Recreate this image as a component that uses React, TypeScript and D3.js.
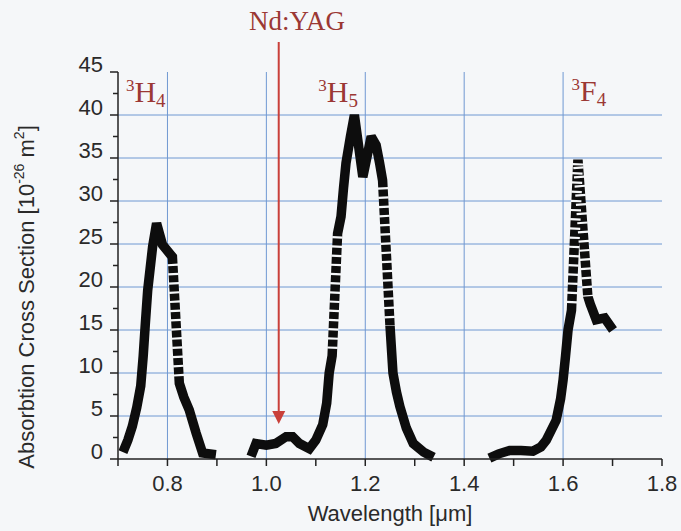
import React from 'react';
import * as d3 from 'd3';

const W = 681;
const H = 531;

// Axis ticks
const xMinorTicks = [0.7, 0.8, 0.9, 1.0, 1.1, 1.2, 1.3, 1.4, 1.5, 1.6, 1.7, 1.8];
const xTickLabels = [0.8, 1.0, 1.2, 1.4, 1.6, 1.8];
const xGridValues = [0.8, 1.0, 1.2, 1.4, 1.6];
const yTickLabels = [0, 5, 10, 15, 20, 25, 30, 35, 40, 45];
const yMinorTicks = [2.5, 7.5, 12.5, 17.5, 22.5, 27.5, 32.5, 37.5, 42.5];
const yGridValues = [5, 10, 15, 20, 25, 30, 35, 40];

// Band 3H4
const h4Wavelength = [0.71, 0.72, 0.729, 0.738, 0.746, 0.751, 0.755, 0.76, 0.77, 0.778, 0.79, 0.81, 0.824, 0.833, 0.844, 0.858, 0.871, 0.898];
const h4Sigma = [0.8, 2.2, 3.8, 6, 8.5, 12, 15.5, 19.6, 24.7, 27.4, 24.9, 23.5, 8.8, 7.2, 5.7, 3, 0.7, 0.5];

// Band 3H5 (with the weak feature near 1.0 um)
const h5Wavelength = [0.969, 0.979, 1.0, 1.019, 1.04, 1.053, 1.067, 1.087, 1.1, 1.114, 1.122, 1.127, 1.133, 1.144, 1.151, 1.156, 1.161, 1.17, 1.178, 1.195, 1.212, 1.222, 1.229, 1.235, 1.25, 1.256, 1.263, 1.27, 1.283, 1.297, 1.318, 1.338];
const h5Sigma = [0.3, 1.8, 1.6, 1.8, 2.6, 2.6, 1.8, 1.2, 2.2, 4, 6.5, 10, 12, 26.2, 28.2, 31.5, 34.4, 37.5, 40, 32.8, 37.5, 36.5, 34.4, 32.4, 15.5, 10, 7.8, 6.1, 3.6, 1.8, 0.8, 0.2];

// Band 3F4
const f4Wavelength = [1.451, 1.47, 1.492, 1.515, 1.539, 1.555, 1.566, 1.586, 1.595, 1.6, 1.605, 1.61, 1.617, 1.63, 1.65, 1.655, 1.667, 1.684, 1.701];
const f4Sigma = [0.1, 0.6, 1.0, 1.0, 0.9, 1.4, 2.2, 4.5, 7, 9.2, 12, 15, 17.3, 34.8, 18.9, 18, 16.2, 16.4, 15];

const bands = [
  { wl: h4Wavelength, s: h4Sigma },
  { wl: h5Wavelength, s: h5Sigma },
  { wl: f4Wavelength, s: f4Sigma },
];

// Annotations
const bandLabels = [
  { main: 'H', sup: '3', sub: '4', wl: 0.716, s: 41.5 },
  { main: 'H', sup: '3', sub: '5', wl: 1.105, s: 41.5 },
  { main: 'F', sup: '3', sub: '4', wl: 1.617, s: 41.6 },
];
const laserArrowWavelength = 1.025; // where the arrow is drawn in the figure
const laserLabel = 'Nd:YAG';

const BG = '#f5f7f9';
const GRID = '#6f98d2';
const AXIS = '#222';
const RED = '#c9403a';
const DARKRED = '#9b3834';
const SANS = '"Liberation Sans", Arial, Helvetica, sans-serif';
const SERIF = '"Liberation Serif", "Times New Roman", serif';

export default function App() {
  const x = d3.scaleLinear().domain([0.7, 1.8]).range([118, 662]);
  const y = d3.scaleLinear().domain([0, 45]).range([459, 72]);
  const x0 = x(0.7);
  const x1 = x(1.8);
  const y0 = y(0);
  const yTop = y(45);

  const line = d3
    .line<[number, number]>()
    .x((d) => x(d[0]))
    .y((d) => y(d[1]));

  const paths = bands.map((b) => line(b.wl.map((w, i) => [w, b.s[i]] as [number, number])) || '');

  // long segments drawn with the broken (stippled) look of the original
  const longSegs: { x1: number; y1: number; x2: number; y2: number }[] = [];
  bands.forEach((b) => {
    for (let i = 0; i < b.wl.length - 1; i++) {
      const ax = x(b.wl[i]);
      const ay = y(b.s[i]);
      const bx = x(b.wl[i + 1]);
      const by = y(b.s[i + 1]);
      if (Math.hypot(bx - ax, by - ay) > 75) longSegs.push({ x1: ax, y1: ay, x2: bx, y2: by });
    }
  });

  const arrowX = x(laserArrowWavelength);
  const arrowTip = 424;

  return (
    <svg
      width={W}
      height={H}
      viewBox={`0 0 ${W} ${H}`}
      style={{ position: 'absolute', left: 0, top: 0 }}
    >
      <rect x={0} y={0} width={W} height={H} fill={BG} />

      {/* grid */}
      {yGridValues.map((v) => (
        <line key={'hg' + v} x1={x0} x2={x1} y1={y(v)} y2={y(v)} stroke={GRID} strokeWidth={1} />
      ))}
      {xGridValues.map((v) => (
        <line key={'vg' + v} x1={x(v)} x2={x(v)} y1={yTop} y2={y0} stroke={GRID} strokeWidth={1} />
      ))}

      {/* data */}
      {paths.map((d, i) => (
        <path
          key={'p' + i}
          d={d}
          fill="none"
          stroke="#0d0d0d"
          strokeWidth={9.5}
          strokeLinejoin="miter"
          strokeMiterlimit={2}
          strokeLinecap="butt"
        />
      ))}
      {longSegs.map((s, i) => (
        <line
          key={'ls' + i}
          x1={s.x1}
          y1={s.y1}
          x2={s.x2}
          y2={s.y2}
          stroke={BG}
          strokeWidth={10.5}
          strokeDasharray="0 7 2.2 0"
        />
      ))}

      {/* axes */}
      <line x1={x0} x2={x0} y1={yTop} y2={y0} stroke={AXIS} strokeWidth={1.5} />
      <line x1={x0} x2={x1} y1={y0} y2={y0} stroke={AXIS} strokeWidth={1.5} />
      {yTickLabels.map((v) => (
        <line key={'yt' + v} x1={x0 - 8} x2={x0} y1={y(v)} y2={y(v)} stroke={AXIS} strokeWidth={1.5} />
      ))}
      {yMinorTicks.map((v) => (
        <line key={'ym' + v} x1={x0 - 5} x2={x0} y1={y(v)} y2={y(v)} stroke={AXIS} strokeWidth={1.5} />
      ))}
      {xMinorTicks.map((v) => (
        <line key={'xt' + v} x1={x(v)} x2={x(v)} y1={y0} y2={y0 + 7} stroke={AXIS} strokeWidth={1.5} />
      ))}

      {yTickLabels.map((v) => (
        <text
          key={'yl' + v}
          x={103}
          y={y(v) - 0.5}
          textAnchor="end"
          fontFamily={SANS}
          fontSize={22}
          fill="#2a2a2a"
        >
          {v}
        </text>
      ))}
      {xTickLabels.map((v) => (
        <text
          key={'xl' + v}
          x={x(v)}
          y={491}
          textAnchor="middle"
          fontFamily={SANS}
          fontSize={22}
          fill="#2a2a2a"
        >
          {d3.format('.1f')(v)}
        </text>
      ))}

      {/* axis titles */}
      <text x={(x0 + x1) / 2} y={521} textAnchor="middle" fontFamily={SANS} fontSize={22} fill="#2a2a2a">
        Wavelength [μm]
      </text>
      <text
        transform="translate(34,297) rotate(-90)"
        textAnchor="middle"
        fontFamily={SANS}
        fontSize={22}
        fill="#2a2a2a"
      >
        Absorbtion Cross Section [10
        <tspan fontSize={14} dy={-10}>-26</tspan>
        <tspan dy={10}> m</tspan>
        <tspan fontSize={14} dy={-10}>2</tspan>
        <tspan dy={10}>]</tspan>
      </text>

      {/* Nd:YAG arrow */}
      <text x={249} y={30} fontFamily={SERIF} fontSize={27} fill={DARKRED}>
        {laserLabel}
      </text>
      <line x1={arrowX} x2={arrowX} y1={42} y2={arrowTip - 10} stroke={RED} strokeWidth={2} />
      <path
        d={`M${arrowX - 6.5},${arrowTip - 13} L${arrowX + 6.5},${arrowTip - 13} L${arrowX},${arrowTip} Z`}
        fill={RED}
      />

      {/* band labels */}
      {bandLabels.map((b, i) => (
        <text key={'bl' + i} x={x(b.wl)} y={y(b.s)} fontFamily={SERIF} fontSize={30} fill={DARKRED}>
          <tspan fontSize={17} dy={-11}>{b.sup}</tspan>
          <tspan dy={11}>{b.main}</tspan>
          <tspan fontSize={19} dy={5}>{b.sub}</tspan>
        </text>
      ))}
    </svg>
  );
}
